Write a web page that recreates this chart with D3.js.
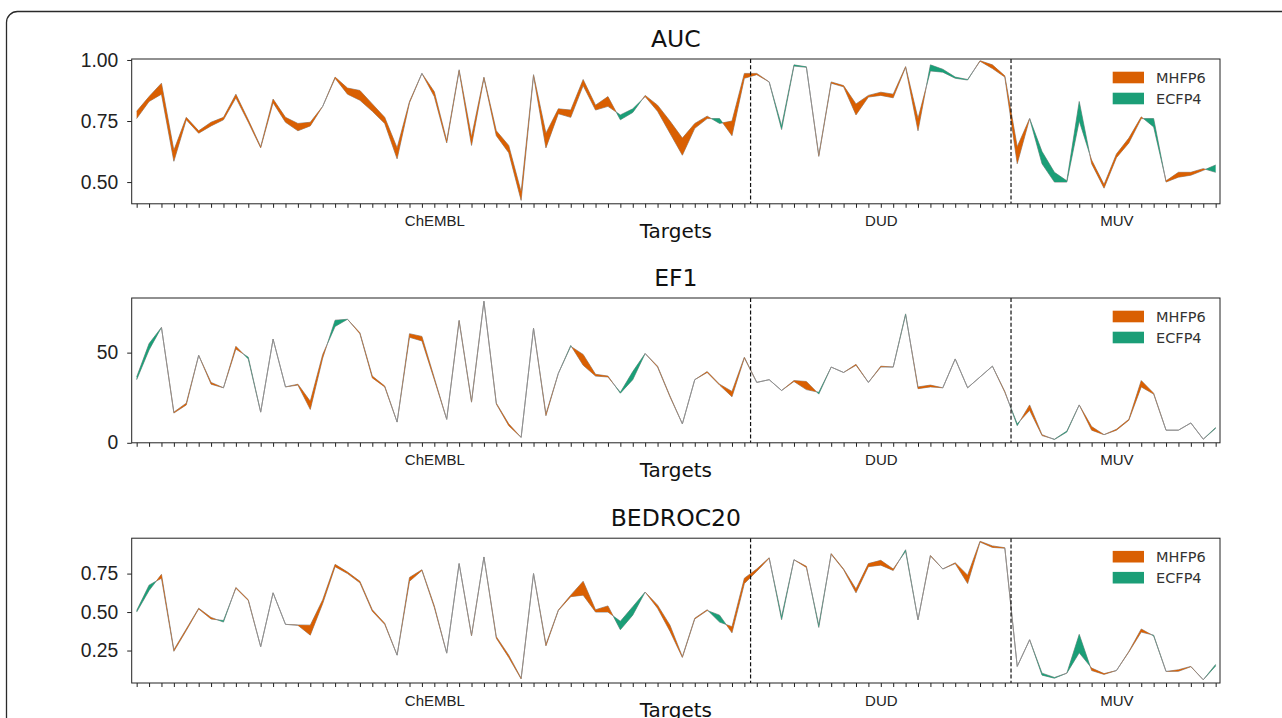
<!DOCTYPE html>
<svg width="1282" height="718"></svg>
<script src="https://d3js.org/d3.v7.min.js"></script>

<style>
body { margin: 0; background: #fff; }
svg { display: block; font-family: "DejaVu Sans", sans-serif; }
.ytick text { font-size: 19.3px; fill: #222; }
.group text { font-size: 15px; fill: #222; }
.title { font-size: 23.5px; fill: #111; }
.xlabel { font-size: 20px; fill: #111; }
.legend_text { font-size: 14.5px; fill: #333; }
</style>

<script>

// target groups: ChEMBL 0..49, DUD 50..70, MUV 71..87
var groups = ["ChEMBL", "DUD", "MUV"],
    groupCenters = [24, 60, 79],
    groupBounds = [49.5, 70.5],
    nTargets = 88;

var aucMHFP6 = [0.79, 0.85, 0.905, 0.63, 0.765, 0.71, 0.745, 0.765, 0.86, 0.755,
  0.645, 0.84, 0.765, 0.74, 0.745, 0.81, 0.93, 0.885, 0.875, 0.82,
  0.765, 0.64, 0.83, 0.945, 0.87, 0.67, 0.96, 0.685, 0.93, 0.71,
  0.65, 0.46, 0.94, 0.70, 0.80, 0.795, 0.92, 0.815, 0.85, 0.755,
  0.785, 0.855, 0.815, 0.75, 0.68, 0.74, 0.77, 0.74, 0.75, 0.945,
  0.945, 0.91, 0.715, 0.975, 0.97, 0.61, 0.91, 0.895, 0.82, 0.855,
  0.868, 0.86, 0.973, 0.76, 0.955, 0.95, 0.925, 0.918, 0.997, 0.98,
  0.935, 0.645, 0.76, 0.575, 0.50, 0.50, 0.75, 0.59, 0.49, 0.615,
  0.68, 0.767, 0.726, 0.505, 0.54, 0.54, 0.555, 0.54];
var aucECFP4 = [0.76, 0.83, 0.86, 0.585, 0.755, 0.70, 0.73, 0.755, 0.845, 0.745,
  0.64, 0.825, 0.745, 0.71, 0.73, 0.81, 0.925, 0.86, 0.835, 0.79,
  0.74, 0.595, 0.825, 0.945, 0.85, 0.66, 0.955, 0.65, 0.925, 0.69,
  0.62, 0.425, 0.935, 0.64, 0.78, 0.765, 0.895, 0.795, 0.81, 0.775,
  0.80, 0.85, 0.79, 0.70, 0.61, 0.72, 0.76, 0.76, 0.69, 0.925,
  0.94, 0.91, 0.73, 0.98, 0.972, 0.605, 0.905, 0.89, 0.775, 0.848,
  0.855, 0.845, 0.97, 0.71, 0.98, 0.962, 0.93, 0.92, 0.995, 0.965,
  0.93, 0.575, 0.76, 0.625, 0.54, 0.505, 0.83, 0.575, 0.475, 0.60,
  0.66, 0.76, 0.76, 0.50, 0.52, 0.528, 0.548, 0.57];

var ef1MHFP6 = [35, 51.5, 64, 17, 22, 48.5, 33.5, 30.5, 53.5, 46.5,
  17, 57.5, 31, 32.5, 23, 49, 64.5, 68.5, 61, 37,
  31.5, 11.5, 60.5, 59, 36, 13, 68, 23, 78.5, 22,
  10.5, 3, 63.5, 16, 38.5, 53.5, 49, 38, 37, 27.5,
  35, 49.5, 42.5, 26, 10.5, 35, 39.5, 32.5, 28.5, 47.5,
  33.5, 35, 29, 34.5, 34, 27, 42, 39, 43.5, 33.5,
  42.5, 42, 71, 31, 32, 30.5, 46.5, 30.5, 36.5, 42.5,
  28.5, 9.5, 21, 4.5, 1.8, 6, 21, 9, 4.5, 7.5,
  13, 34.5, 27.5, 7, 7, 11, 2, 8];
var ef1ECFP4 = [36.5, 55, 64, 16.5, 21, 48.5, 32.5, 30.5, 52, 47.5,
  17, 57.5, 31, 32, 18.5, 47, 68, 68.5, 60.5, 36,
  31, 11.5, 58.5, 56.5, 35, 13, 67.5, 22.5, 78.5, 21.5,
  9.5, 3, 63.5, 15, 38.5, 54, 43, 37, 36.5, 28,
  39.5, 49.5, 42, 25.5, 10.5, 35, 39, 32, 25.5, 47,
  33.5, 35, 29, 34, 29.5, 28, 42, 39, 43, 33.5,
  42, 42, 71.5, 30, 31, 30.5, 46.5, 30.5, 36.5, 42.5,
  28, 10.5, 18, 4, 2, 6.5, 21, 7, 4.5, 7,
  12.5, 31, 27, 7, 7, 11, 2, 8.5];

var bedrocMHFP6 = [0.50, 0.64, 0.745, 0.255, 0.39, 0.525, 0.465, 0.435, 0.66, 0.58,
  0.275, 0.625, 0.42, 0.416, 0.415, 0.58, 0.81, 0.76, 0.70, 0.515,
  0.427, 0.22, 0.725, 0.775, 0.54, 0.233, 0.815, 0.35, 0.858, 0.34,
  0.22, 0.07, 0.75, 0.29, 0.513, 0.61, 0.70, 0.515, 0.54, 0.385,
  0.48, 0.63, 0.545, 0.415, 0.21, 0.46, 0.515, 0.435, 0.405, 0.72,
  0.78, 0.853, 0.45, 0.84, 0.797, 0.40, 0.88, 0.78, 0.65, 0.815,
  0.836, 0.78, 0.895, 0.45, 0.868, 0.78, 0.82, 0.74, 0.96, 0.93,
  0.918, 0.147, 0.32, 0.09, 0.07, 0.103, 0.235, 0.136, 0.10, 0.12,
  0.244, 0.39, 0.345, 0.114, 0.125, 0.147, 0.06, 0.15];
var bedrocECFP4 = [0.51, 0.675, 0.72, 0.245, 0.38, 0.52, 0.455, 0.445, 0.655, 0.575,
  0.275, 0.625, 0.42, 0.414, 0.35, 0.555, 0.795, 0.75, 0.69, 0.505,
  0.42, 0.22, 0.70, 0.77, 0.53, 0.233, 0.815, 0.345, 0.858, 0.33,
  0.205, 0.065, 0.75, 0.28, 0.51, 0.60, 0.61, 0.50, 0.50, 0.44,
  0.535, 0.63, 0.525, 0.375, 0.205, 0.455, 0.51, 0.48, 0.365, 0.685,
  0.765, 0.85, 0.47, 0.84, 0.79, 0.415, 0.875, 0.775, 0.625, 0.795,
  0.805, 0.77, 0.905, 0.45, 0.865, 0.78, 0.815, 0.685, 0.955, 0.92,
  0.915, 0.147, 0.32, 0.103, 0.075, 0.103, 0.355, 0.12, 0.095, 0.12,
  0.24, 0.37, 0.35, 0.114, 0.115, 0.145, 0.06, 0.16];

var aucTicks = [0.5, 0.75, 1.0],
    ef1Ticks = [0, 50],
    bedrocTicks = [0.25, 0.5, 0.75];

var seriesNames = ["MHFP6", "ECFP4"],
    seriesColors = ["#d95f02", "#1b9e77"];

var panels = [
  {title: "AUC", a: aucMHFP6, b: aucECFP4, domain: [0.411, 1.004], ticks: aucTicks, fmt: d3.format(".2f")},
  {title: "EF1", a: ef1MHFP6, b: ef1ECFP4, domain: [0, 80.3], ticks: ef1Ticks, fmt: d3.format("d")},
  {title: "BEDROC20", a: bedrocMHFP6, b: bedrocECFP4, domain: [0.039, 0.98], ticks: bedrocTicks, fmt: d3.format(".2f")}
];

var svg = d3.select("svg");

svg.append("rect")
    .attr("x", 6.5).attr("y", 11.5)
    .attr("width", 1320).attr("height", 760)
    .attr("rx", 11)
    .attr("fill", "none")
    .attr("stroke", "#2a2a2a")
    .attr("stroke-width", 1.3);

var left = 131.7, right = 1220, plotHeight = 144.8,
    tops = [59, 298, 538.2];

var x = d3.scaleLinear().domain([-0.4, 87.35]).range([left, right]);

// insert crossing points so the two fills meet like fill_between(interpolate=True)
function withCrossings(a, b) {
  var pts = [];
  for (var i = 0; i < a.length; i++) {
    pts.push({x: i, a: a[i], b: b[i]});
    if (i < a.length - 1) {
      var d0 = a[i] - b[i], d1 = a[i + 1] - b[i + 1];
      if (d0 * d1 < 0) {
        var t = d0 / (d0 - d1);
        var v = a[i] + t * (a[i + 1] - a[i]);
        pts.push({x: i + t, a: v, b: v});
      }
    }
  }
  return pts;
}

panels.forEach(function(p, k) {
  var top = tops[k];
  var g = svg.append("g").attr("transform", "translate(0," + top + ")");
  var y = d3.scaleLinear().domain(p.domain).range([plotHeight, 0]);

  g.append("text")
      .attr("class", "title")
      .attr("x", (left + right) / 2)
      .attr("y", -12.5)
      .attr("text-anchor", "middle")
      .text(p.title);

  var line = d3.line()
      .x(function(d, i) { return x(i); })
      .y(function(d) { return y(d); });

  [p.a, p.b].forEach(function(s) {
    g.append("path")
        .datum(s)
        .attr("fill", "none")
        .attr("stroke", "#8f8f8f")
        .attr("stroke-width", 0.9)
        .attr("stroke-linejoin", "round")
        .attr("d", line);
  });

  var pts = withCrossings(p.a, p.b);

  g.append("path")
      .datum(pts)
      .attr("fill", seriesColors[0])
      .attr("d", d3.area()
        .defined(function(d) { return d.a >= d.b; })
        .x(function(d) { return x(d.x); })
        .y0(function(d) { return y(d.b); })
        .y1(function(d) { return y(d.a); }));

  g.append("path")
      .datum(pts)
      .attr("fill", seriesColors[1])
      .attr("d", d3.area()
        .defined(function(d) { return d.b >= d.a; })
        .x(function(d) { return x(d.x); })
        .y0(function(d) { return y(d.a); })
        .y1(function(d) { return y(d.b); }));

  groupBounds.forEach(function(b) {
    g.append("line")
        .attr("x1", x(b)).attr("x2", x(b))
        .attr("y1", 0).attr("y2", plotHeight)
        .attr("stroke", "#111")
        .attr("stroke-width", 1.2)
        .attr("stroke-dasharray", "4,2.2");
  });

  g.append("rect")
      .attr("x", left).attr("y", 0)
      .attr("width", right - left).attr("height", plotHeight)
      .attr("fill", "none")
      .attr("stroke", "#222")
      .attr("stroke-width", 1);

  var ya = g.append("g")
      .attr("class", "ytick")
      .attr("transform", "translate(" + left + ",0)")
      .call(d3.axisLeft(y).tickValues(p.ticks).tickFormat(p.fmt).tickSize(4.5).tickPadding(9));
  ya.select(".domain").remove();
  ya.selectAll("line").attr("stroke", "#222");

  var xa = g.append("g")
      .attr("transform", "translate(0," + plotHeight + ")")
      .call(d3.axisBottom(x).tickValues(d3.range(nTargets)).tickFormat("").tickSize(4));
  xa.select(".domain").remove();
  xa.selectAll("line").attr("stroke", "#222");

  var ga = g.append("g")
      .attr("class", "group")
      .attr("transform", "translate(0," + plotHeight + ")")
      .call(d3.axisBottom(x).tickValues(groupCenters)
        .tickFormat(function(d, i) { return groups[i]; })
        .tickSize(0).tickPadding(12));
  ga.select(".domain").remove();

  g.append("text")
      .attr("class", "xlabel")
      .attr("x", (left + right) / 2)
      .attr("y", plotHeight + 34.5)
      .attr("text-anchor", "middle")
      .text("Targets");

  seriesNames.forEach(function(name, j) {
    g.append("rect")
        .attr("x", right - 107.3)
        .attr("y", 12.7 + j * 21)
        .attr("width", 31.3)
        .attr("height", 11.6)
        .attr("fill", seriesColors[j]);
    g.append("text")
        .attr("class", "legend_text")
        .attr("x", right - 64)
        .attr("y", 18.5 + j * 21)
        .attr("dy", "0.36em")
        .text(name);
  });
});
</script>
